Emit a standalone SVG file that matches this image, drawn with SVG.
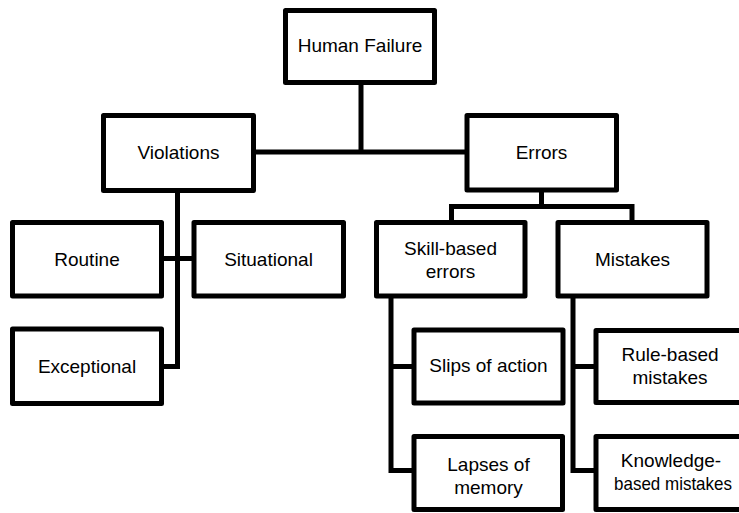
<svg xmlns="http://www.w3.org/2000/svg" width="739" height="513" viewBox="0 0 739 513">
<style>
.box{fill:#fff;stroke:#000;stroke-width:5;stroke-linejoin:round}
.ln{fill:none;stroke:#000;stroke-width:5;stroke-linejoin:miter;stroke-linecap:butt}
text{font-family:"Liberation Sans",Arial,sans-serif;font-size:19px;fill:#000;text-anchor:middle}
</style>
<rect width="739" height="513" fill="#fff"/>
<g id="connectors">
<polyline class="ln" points="361,82 361,152"/>
<polyline class="ln" points="253,152 467,152"/>
<polyline class="ln" points="177.5,190 177.5,366.5 161.5,366.5"/>
<polyline class="ln" points="161.5,258.5 194,258.5"/>
<polyline class="ln" points="541.5,190 541.5,206.5"/>
<polyline class="ln" points="451.5,222.5 451.5,206.5 632,206.5 632,222.5"/>
<polyline class="ln" points="391,296 391,470.5 414,470.5"/>
<polyline class="ln" points="391,366.5 414,366.5"/>
<polyline class="ln" points="573,296 573,470.5 596,470.5"/>
<polyline class="ln" points="573,366.5 596,366.5"/>
</g>
<g id="human-failure"><rect class="box" x="285.5" y="10.5" width="149" height="72"/><text x="360" y="52">Human Failure</text></g>
<g id="violations"><rect class="box" x="103.5" y="115.5" width="150" height="75"/><text x="178.5" y="159">Violations</text></g>
<g id="errors"><rect class="box" x="467" y="115.5" width="149.5" height="74.5"/><text x="541.5" y="159">Errors</text></g>
<g id="routine"><rect class="box" x="12.5" y="222.5" width="149" height="73.5"/><text x="87" y="266">Routine</text></g>
<g id="situational"><rect class="box" x="194" y="222.5" width="149.5" height="73.5"/><text x="268.5" y="266">Situational</text></g>
<g id="exceptional"><rect class="box" x="12.5" y="329" width="149" height="74.5"/><text x="87" y="372.5">Exceptional</text></g>
<g id="skill-based"><rect class="box" x="376.5" y="222.5" width="148.5" height="73.5"/><text x="450.5" y="254.5">Skill-based</text><text x="450.5" y="277.5">errors</text></g>
<g id="mistakes"><rect class="box" x="558" y="222.5" width="149" height="73.5"/><text x="632.5" y="266">Mistakes</text></g>
<g id="slips"><rect class="box" x="414" y="330" width="149" height="73"/><text x="488.5" y="372">Slips of action</text></g>
<g id="lapses"><rect class="box" x="414" y="436.5" width="148.5" height="73"/><text x="488.5" y="470.5">Lapses of</text><text x="488.5" y="494">memory</text></g>
<g id="rule-based"><rect class="box" x="596" y="330.5" width="155" height="72"/><text x="670" y="361">Rule-based</text><text x="670" y="383.5">mistakes</text></g>
<g id="knowledge-based"><rect class="box" x="596" y="436.5" width="155" height="73"/><text x="671" y="467">Knowledge-</text><text x="673" y="490" textLength="118" lengthAdjust="spacingAndGlyphs">based mistakes</text></g>
</svg>
